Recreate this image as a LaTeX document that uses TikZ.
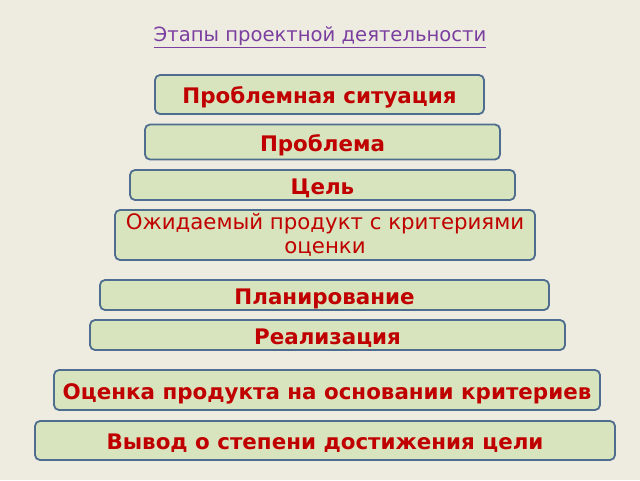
\documentclass[tikz,border=0pt]{standalone}
\usepackage{fontspec}
\setmainfont{DejaVu Sans}
\definecolor{bgtan}{HTML}{EEECE1}
\definecolor{stagefill}{HTML}{D7E4BD}
\definecolor{stageline}{HTML}{4E6D8F}
\definecolor{stagetext}{HTML}{C00000}
\definecolor{titlepurple}{HTML}{7B3FA0}

\begin{document}
\begin{tikzpicture}[x=1pt,y=-1pt]
	\tikzset{stagebox/.style={draw=stageline, line width=1.8pt, fill=stagefill,
		rounded corners=5pt, inner sep=0pt, text=stagetext,
		font=\fontsize{21.4}{23}\selectfont\bfseries},
		oneline/.style={text height=22pt, text depth=3.4pt}}
	\fill[bgtan] (0,0) rectangle (640,480);
	\useasboundingbox (0,0) rectangle (640,480);
	\node (title) at (320,37) [text=titlepurple, font=\fontsize{19.6}{22}\selectfont] {\underline{Этапы проектной деятельности}};
	\node (s1) at (319.5,94.5) [stagebox, oneline, minimum width=329pt, minimum height=39pt] {Проблемная ситуация};
	\node (s2) at (322.5,142) [stagebox, oneline, minimum width=355pt, minimum height=35pt] {Проблема};
	\node (s3) at (322.5,185) [stagebox, oneline, minimum width=385pt, minimum height=30pt] {Цель};
	\node (s4) at (325,235) [stagebox, minimum width=420pt, minimum height=50pt,
		align=center, font=\fontsize{21.3}{23.5}\selectfont] {Ожидаемый продукт с критериями\\оценки};
	\node (s5) at (324.5,295) [stagebox, oneline, minimum width=449pt, minimum height=30pt] {Планирование};
	\node (s6) at (327.5,335) [stagebox, oneline, minimum width=475pt, minimum height=30pt] {Реализация};
	\node (s7) at (327,390) [stagebox, oneline, minimum width=546pt, minimum height=40pt] {Оценка продукта на основании критериев};
	\node (s8) at (325,440.5) [stagebox, oneline, minimum width=580pt, minimum height=39pt] {Вывод о степени достижения цели};
\end{tikzpicture}
\end{document}
